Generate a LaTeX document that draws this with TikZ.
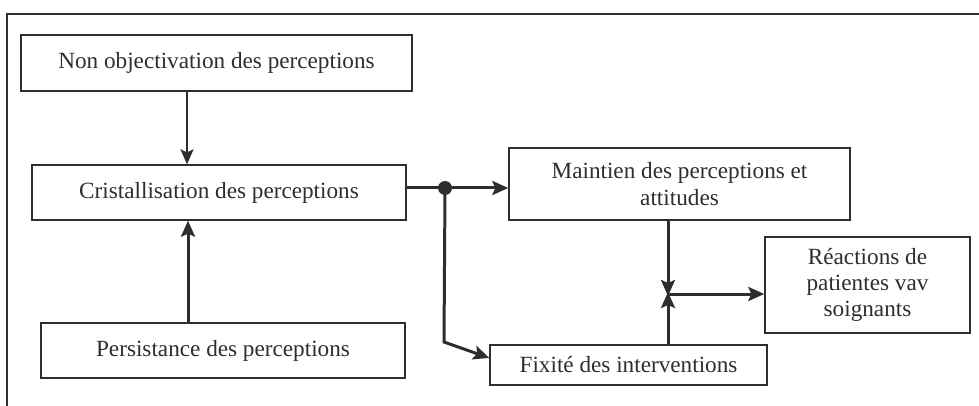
\documentclass[tikz,border=0pt]{standalone}
\usepackage{fontspec}
\setmainfont{Liberation Serif}
\usetikzlibrary{arrows.meta}
\definecolor{ink}{HTML}{2E2E2E}
\tikzset{
  box/.style={draw=ink, line width=1.3pt, fill=white, inner sep=0pt, text=ink,
    font=\fontsize{23.2}{27}\selectfont, align=center, anchor=center},
  flow/.style={draw=ink, line width=3pt,
    -{Stealth[length=16pt,width=14pt,inset=3pt]}},
  thinflow/.style={draw=ink, line width=2pt,
    -{Stealth[length=15pt,width=13pt,inset=3pt]}},
}
\begin{document}
\begin{tikzpicture}[x=1pt,y=-1pt]
  \useasboundingbox (0,0) rectangle (979,406);
  % outer frame, open at the right and bottom
  \draw[ink, line width=1.3pt] (7,420) -- (7,14) -- (990,14);

  \node[box, minimum width=391pt, minimum height=56pt] (non) at (216.5,63)
    {Non objectivation des perceptions};
  \node[box, minimum width=374pt, minimum height=55pt] (cri) at (219,192.5)
    {Cristallisation des perceptions};
  \node[box, minimum width=364pt, minimum height=55pt] (per) at (223,350.5)
    {Persistance des perceptions};
  \node[box, minimum width=341pt, minimum height=72pt] (mai) at (679.5,184)
    {Maintien des perceptions et\\attitudes};
  \node[box, minimum width=277pt, minimum height=40pt] (fix) at (628.5,365)
    {Fixité des interventions};
  \node[box, minimum width=205pt, minimum height=96pt,
    font=\fontsize{23.2}{26}\selectfont] (rea) at (867.5,285)
    {Réactions de\\patientes vav\\soignants};

  % branching point and meeting point
  \coordinate (b) at (445,188);
  \coordinate (k) at (444,342);
  \coordinate (j) at (668,294);

  \draw[thinflow] (non.south -| 187,0) -- (cri.north -| 187,0);
  \draw[flow] (per.north -| 188,0) -- (cri.south -| 188,0);

  \draw[draw=ink, line width=3pt] (cri.east |- b) -- (b);
  \draw[flow] (b) -- (mai.west |- b);
  \fill[ink] (b) circle (7pt);
  \draw[flow] (b) -- (k) -- (fix.west |- 0,358);

  \draw[flow] (mai.south -| j) -- ([yshift=-2pt]j);
  \draw[flow] (fix.north -| j) -- ([yshift=2pt]j);
  \draw[flow] (j) -- (rea.west |- j);
\end{tikzpicture}
\end{document}
